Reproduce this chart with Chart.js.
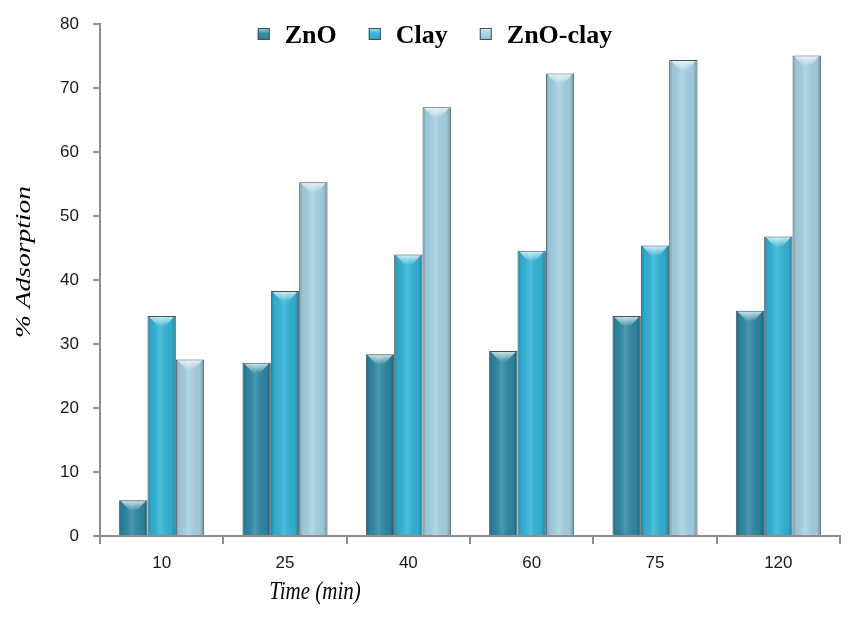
<!DOCTYPE html>
<html><head><meta charset="utf-8">
<script src="https://cdn.jsdelivr.net/npm/chart.js@4.4.0/dist/chart.umd.min.js"></script>
<style>html,body{margin:0;padding:0;background:#fff}</style>
</head><body>
<canvas id="c" width="851" height="632"></canvas>
<script>
const categories = ['10', '25', '40', '60', '75', '120'];
const seriesNames = ['ZnO', 'Clay', 'ZnO-clay'];
const znoValues = [5.6, 27.1, 28.4, 28.9, 34.4, 35.2];
const clayValues = [34.4, 38.3, 44.0, 44.6, 45.4, 46.8];
const znoClayValues = [27.6, 55.3, 67.0, 72.3, 74.4, 75.1];
const yMin = 0, yMax = 80, yStep = 10;
const xTitle = 'Time (min)';
const yTitle = '% Adsorption';

const seriesColors = ['#2c88a4', '#30b4d7', '#a5d1e3'];
const edgeColor = '#3f525a';
const axisColor = '#8e8e8e';

const bevel = {
  id: 'bevel',
  afterDatasetsDraw(chart) {
    const ctx = chart.ctx;
    chart.data.datasets.forEach((ds, i) => {
      const meta = chart.getDatasetMeta(i);
      meta.data.forEach(bar => {
        const p = bar.getProps(['x', 'y', 'base', 'width'], true);
        const l = p.x - p.width / 2, r = p.x + p.width / 2, h = p.base - p.y;
        ctx.save();
        const g = ctx.createLinearGradient(l, 0, r, 0);
        g.addColorStop(0, 'rgba(0,0,0,0.30)');
        g.addColorStop(0.12, 'rgba(0,0,0,0.06)');
        g.addColorStop(0.45, 'rgba(255,255,255,0.14)');
        g.addColorStop(0.85, 'rgba(0,0,0,0.05)');
        g.addColorStop(1, 'rgba(0,0,0,0.32)');
        ctx.fillStyle = g;
        ctx.fillRect(l + 1, p.y + 1, p.width - 2, h - 1);
        const bh = Math.min(10, h / 2);
        const tg = ctx.createLinearGradient(0, p.y, 0, p.y + bh);
        tg.addColorStop(0, 'rgba(255,255,255,0.8)');
        tg.addColorStop(1, 'rgba(255,255,255,0.05)');
        ctx.beginPath();
        ctx.moveTo(l + 2, p.y + 1);
        ctx.lineTo(r - 2, p.y + 1);
        ctx.lineTo(p.x + 4, p.y + bh);
        ctx.lineTo(p.x - 4, p.y + bh);
        ctx.closePath();
        ctx.fillStyle = tg;
        ctx.fill();
        ctx.restore();
      });
    });
  }
};

const legendAndTitles = {
  id: 'legendAndTitles',
  afterDraw(chart) {
    const ctx = chart.ctx;
    ctx.save();
    // legend
    ctx.font = 'bold 26px "Liberation Serif", "Times New Roman", serif';
    ctx.textBaseline = 'alphabetic';
    const box = 12, gapIn = 15, gapOut = 32;
    const widths = seriesNames.map(n => ctx.measureText(n).width);
    let total = 0;
    widths.forEach((w, i) => { total += box + gapIn + w + (i < widths.length - 1 ? gapOut : 0); });
    let x = 435 - total / 2;
    seriesNames.forEach((n, i) => {
      const by = 28;
      ctx.fillStyle = seriesColors[i];
      ctx.fillRect(x, by, box, box);
      const g = ctx.createLinearGradient(0, by, 0, by + box);
      g.addColorStop(0, 'rgba(255,255,255,0.6)');
      g.addColorStop(0.5, 'rgba(255,255,255,0)');
      g.addColorStop(1, 'rgba(0,0,0,0.2)');
      ctx.fillStyle = g;
      ctx.fillRect(x, by, box, box);
      ctx.strokeStyle = edgeColor;
      ctx.lineWidth = 1;
      ctx.strokeRect(x + 0.5, by + 0.5, box - 1, box - 1);
      ctx.fillStyle = '#000';
      ctx.fillText(n, x + box + gapIn, 43);
      x += box + gapIn + widths[i] + gapOut;
    });
    // axis titles
    ctx.fillStyle = '#000';
    ctx.textAlign = 'center';
    ctx.textBaseline = 'middle';
    ctx.font = 'italic 22px "Liberation Serif", "Times New Roman", serif';
    ctx.save();
    ctx.translate(24, 262);
    ctx.rotate(-Math.PI / 2);
    ctx.scale(1.25, 1);
    ctx.fillText(yTitle, 0, 0);
    ctx.restore();
    ctx.font = 'italic 21px "Liberation Serif", "Times New Roman", serif';
    ctx.save();
    ctx.translate(315, 593);
    ctx.scale(1, 1.15);
    ctx.fillText(xTitle, 0, 0);
    ctx.restore();
    ctx.restore();
  }
};

new Chart(document.getElementById('c'), {
  type: 'bar',
  data: {
    labels: categories,
    datasets: [
      { label: seriesNames[0], data: znoValues, backgroundColor: seriesColors[0], borderColor: edgeColor, borderWidth: 1 },
      { label: seriesNames[1], data: clayValues, backgroundColor: seriesColors[1], borderColor: edgeColor, borderWidth: 1 },
      { label: seriesNames[2], data: znoClayValues, backgroundColor: seriesColors[2], borderColor: edgeColor, borderWidth: 1 }
    ]
  },
  options: {
    responsive: false,
    animation: false,
    devicePixelRatio: 1,
    layout: { padding: { left: 0, right: 11, top: 18, bottom: 0 } },
    datasets: { bar: { categoryPercentage: 0.69, barPercentage: 1 } },
    plugins: { legend: { display: false }, tooltip: { enabled: false } },
    scales: {
      x: {
        offset: true,
        grid: { display: true, drawOnChartArea: false, drawTicks: true, tickLength: 8, color: axisColor, lineWidth: 2, offset: true },
        border: { color: axisColor, width: 2 },
        ticks: { color: '#1a1a1a', font: { family: '"Liberation Sans", Arial, sans-serif', size: 17 }, padding: 9 },
        afterFit(s) { s.height = 96; }
      },
      y: {
        min: yMin, max: yMax,
        grid: { display: true, drawOnChartArea: false, drawTicks: true, tickLength: 7, color: axisColor, lineWidth: 2 },
        border: { color: axisColor, width: 2 },
        ticks: { stepSize: yStep, color: '#1a1a1a', font: { family: '"Liberation Sans", Arial, sans-serif', size: 17 }, padding: 14 },
        afterFit(s) { s.width = 100; }
      }
    }
  },
  plugins: [bevel, legendAndTitles]
});
</script>
</body></html>
